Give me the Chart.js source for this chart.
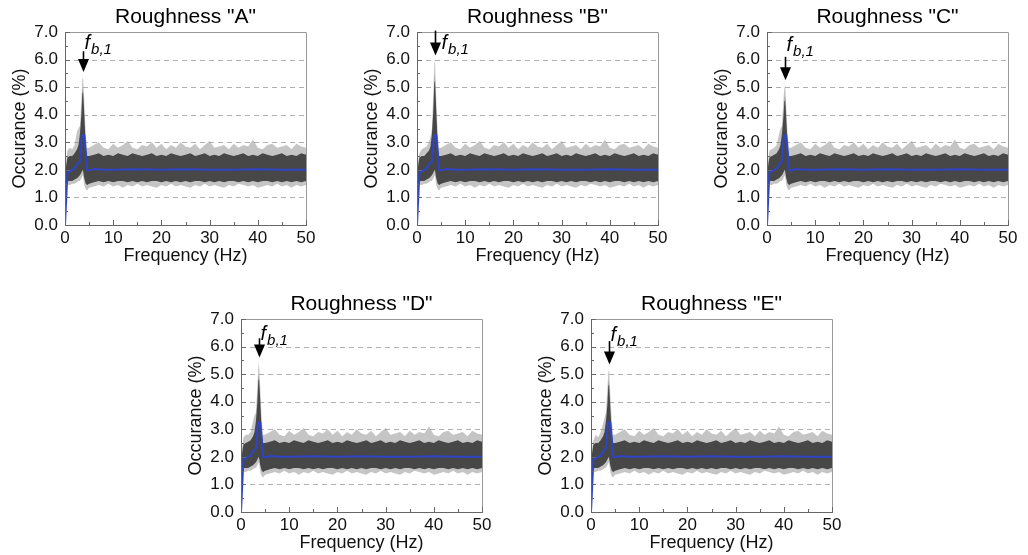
<!doctype html>
<html lang="en">
<head>
<meta charset="utf-8">
<script src="https://cdn.jsdelivr.net/npm/chart.js@4.4.1/dist/chart.umd.min.js"></script>
<style>
  body { margin: 0; background: #fff; width: 1028px; height: 555px; overflow: hidden; position: relative; }
  .panel { position: absolute; width: 321px; height: 270px; }
</style>
</head>
<body>
<div class="panel" style="left:5px;top:0px"><canvas id="chartA" width="321" height="270"></canvas></div>
<div class="panel" style="left:357px;top:0px"><canvas id="chartB" width="321" height="270"></canvas></div>
<div class="panel" style="left:707px;top:0px"><canvas id="chartC" width="321" height="270"></canvas></div>
<div class="panel" style="left:181px;top:287px"><canvas id="chartD" width="321" height="270"></canvas></div>
<div class="panel" style="left:531px;top:287px"><canvas id="chartE" width="321" height="270"></canvas></div>
<script>
// panel titles
const panelIds = ['chartA', 'chartB', 'chartC', 'chartD', 'chartE'];
const panelTitles = ['Roughness "A"', 'Roughness "B"', 'Roughness "C"', 'Roughness "D"', 'Roughness "E"'];

// frequency grid of the scatter band (Hz)
const lowBandFreq = [0.2, 0.5, 1, 1.5, 2, 2.5, 2.8, 3.1, 3.4, 3.6, 3.7, 3.8, 4.0, 4.3, 4.6];
const flatBandFreq = [5, 6, 7, 8, 9, 10, 11, 12, 13, 14, 15, 16, 17, 18, 19, 20, 21, 22, 23, 24,
  25, 26, 27, 28, 29, 30, 31, 32, 33, 34, 35, 36, 37, 38, 39, 40, 41, 42, 43, 44, 45, 46, 47, 48, 49, 50];

// upper edge of scattered points (light outliers), 0.2-4.6 Hz, per roughness
const outerTopLowA = [2.3, 2.7, 2.8, 2.75, 2.9, 3.4, 3.5, 3.6, 4.6, 5.3, 5.5, 5.2, 4.5, 3.3, 2.8];
const outerTopLowB = [2.3, 2.6, 2.75, 2.8, 2.85, 3.0, 3.2, 3.5, 4.9, 5.9, 6.15, 5.6, 4.6, 3.3, 2.8];
const outerTopLowC = [2.3, 2.7, 2.75, 2.8, 2.9, 3.3, 3.5, 3.6, 4.5, 5.0, 5.25, 5.0, 4.3, 3.2, 2.8];
const outerTopLowD = [2.3, 2.7, 2.8, 2.8, 2.9, 3.3, 3.5, 3.6, 4.6, 5.3, 5.55, 5.2, 4.5, 3.3, 2.8];
const outerTopLowE = [2.3, 2.6, 2.8, 2.7, 2.9, 3.2, 3.4, 3.6, 4.5, 5.1, 5.35, 5.0, 4.3, 3.3, 2.8];

// upper edge of dense points, 0.2-4.6 Hz, per roughness
const coreTopLowA = [2.1, 2.45, 2.5, 2.5, 2.6, 2.75, 2.9, 3.3, 4.0, 4.8, 5.0, 4.7, 4.0, 2.9, 2.5];
const coreTopLowB = [2.1, 2.45, 2.5, 2.5, 2.6, 2.7, 2.85, 3.3, 4.2, 5.2, 5.5, 5.0, 4.1, 2.9, 2.5];
const coreTopLowC = [2.1, 2.45, 2.5, 2.55, 2.6, 2.75, 2.9, 3.3, 3.9, 4.5, 4.7, 4.5, 3.8, 2.8, 2.5];
const coreTopLowD = [2.1, 2.45, 2.5, 2.55, 2.6, 2.75, 2.9, 3.3, 4.0, 4.8, 5.0, 4.7, 4.0, 2.9, 2.5];
const coreTopLowE = [2.1, 2.45, 2.5, 2.5, 2.6, 2.75, 2.9, 3.3, 3.9, 4.6, 4.8, 4.5, 3.8, 2.9, 2.5];

// lower edges, 0.2-4.6 Hz (alike in all panels)
const coreBottomLow = [1.5, 1.6, 1.6, 1.6, 1.65, 1.7, 1.75, 1.8, 1.9, 2.0, 2.0, 1.9, 1.7, 1.5, 1.45];
const outerBottomLow = [1.4, 1.45, 1.45, 1.5, 1.5, 1.55, 1.6, 1.6, 1.7, 1.8, 1.8, 1.7, 1.45, 1.3, 1.25];

// band edges above 5 Hz (alike in all panels)
const flatOuterTop = [2.8, 2.9, 3.0, 2.8, 2.75, 2.95, 2.8, 2.9, 3.05, 2.8,
  2.75, 2.9, 2.85, 3.0, 2.8, 2.95, 2.75, 2.9, 2.8, 3.0,
  2.85, 2.8, 2.95, 2.75, 2.9, 3.05, 2.8, 2.85, 2.9, 2.75,
  2.95, 2.8, 2.9, 2.85, 3.1, 2.8, 2.75, 2.9, 2.95, 2.8,
  2.85, 2.9, 2.75, 2.95, 2.85, 2.8];
const flatCoreTop = [2.5, 2.55, 2.6, 2.5, 2.55, 2.5, 2.6, 2.55, 2.5, 2.6,
  2.55, 2.5, 2.55, 2.6, 2.5, 2.55, 2.5, 2.6, 2.55, 2.5,
  2.55, 2.6, 2.5, 2.55, 2.6, 2.5, 2.55, 2.5, 2.6, 2.55,
  2.5, 2.55, 2.6, 2.5, 2.55, 2.5, 2.6, 2.55, 2.5, 2.55,
  2.6, 2.5, 2.55, 2.5, 2.6, 2.55];
const flatCoreBottom = [1.5, 1.55, 1.6, 1.55, 1.6, 1.55, 1.6, 1.6, 1.55, 1.6,
  1.55, 1.6, 1.55, 1.6, 1.6, 1.55, 1.6, 1.55, 1.6, 1.55,
  1.6, 1.55, 1.6, 1.6, 1.55, 1.6, 1.55, 1.6, 1.55, 1.6,
  1.6, 1.55, 1.6, 1.55, 1.6, 1.55, 1.6, 1.6, 1.55, 1.6,
  1.55, 1.6, 1.55, 1.6, 1.55, 1.6];
const flatOuterBottom = [1.35, 1.4, 1.45, 1.4, 1.5, 1.4, 1.45, 1.35, 1.45, 1.4,
  1.5, 1.4, 1.45, 1.4, 1.35, 1.45, 1.4, 1.5, 1.4, 1.45,
  1.4, 1.35, 1.45, 1.4, 1.5, 1.4, 1.45, 1.4, 1.35, 1.45,
  1.4, 1.5, 1.45, 1.4, 1.45, 1.35, 1.4, 1.45, 1.4, 1.5,
  1.4, 1.45, 1.35, 1.45, 1.4, 1.45];

// mean occurrence (blue line)
const meanFreq = [0, 0.5, 1, 1.5, 2, 2.5, 3.1, 3.5, 4.0, 4.6, 5, 6, 8, 10, 15, 20, 25, 30, 35, 40, 45, 50];
const meanOcc = [0, 1.9, 1.95, 2.0, 2.05, 2.2, 2.3, 3.25, 3.25, 2.0, 1.98, 2.03, 2.0, 2.0, 2.02, 2.0, 2.02, 2.0, 2.0, 2.02, 2.0, 2.0];

// f_b,1 arrow: frequency, start and tip (%)
const arrowFreq = [3.7, 3.7, 3.7, 3.7, 3.7];
const arrowFrom = [6.3, 7.05, 6.1, 6.3, 6.2];
const arrowTo = [5.55, 6.15, 5.25, 5.6, 5.35];
const labelOcc = [6.4, 6.4, 6.3, 6.25, 6.2];
const labelDx = [1, 6, 1, 1, 1];

const outerTops = [outerTopLowA, outerTopLowB, outerTopLowC, outerTopLowD, outerTopLowE];
const coreTops = [coreTopLowA, coreTopLowB, coreTopLowC, coreTopLowD, coreTopLowE];

const xTicks = [0, 10, 20, 30, 40, 50];
const yTicks = [0, 1, 2, 3, 4, 5, 6, 7];

const FONT = '"Liberation Sans", Arial, sans-serif';
const bandFreq = lowBandFreq.concat(flatBandFreq);
const pts = (xs, ys) => xs.map((x, i) => ({x: x, y: ys[i]}));

const decor = {
  id: 'decor',
  beforeDatasetsDraw(chart) {
    const {ctx, chartArea: a, scales: {y}} = chart;
    ctx.save();
    ctx.strokeStyle = '#b0b0b0';
    ctx.lineWidth = 1;
    ctx.setLineDash([5, 4]);
    for (let v = 1; v <= 6; v++) {
      const py = Math.round(y.getPixelForValue(v)) + 0.5;
      ctx.beginPath(); ctx.moveTo(a.left, py); ctx.lineTo(a.right, py); ctx.stroke();
    }
    ctx.restore();
  },
  afterDraw(chart, args, o) {
    const {ctx, chartArea: a, scales: {x, y}} = chart;
    ctx.save();
    // frame
    ctx.lineWidth = 1;
    ctx.strokeStyle = '#9a9a9a';
    ctx.beginPath();
    ctx.moveTo(a.left, a.top + 0.5); ctx.lineTo(a.right + 0.5, a.top + 0.5); ctx.lineTo(a.right + 0.5, a.bottom);
    ctx.stroke();
    ctx.strokeStyle = '#666';
    ctx.beginPath();
    ctx.moveTo(a.left + 0.5, a.top); ctx.lineTo(a.left + 0.5, a.bottom + 0.5); ctx.lineTo(a.right + 1, a.bottom + 0.5);
    ctx.stroke();
    // inward ticks
    ctx.beginPath();
    for (let v = 0; v <= 50; v += 5) {
      const px = Math.round(x.getPixelForValue(v)) + 0.5;
      const len = v % 10 === 0 ? 5 : 3;
      ctx.moveTo(px, a.bottom); ctx.lineTo(px, a.bottom - len);
    }
    for (let v = 0; v <= 7; v += 0.5) {
      const py = Math.round(y.getPixelForValue(v)) + 0.5;
      const len = v % 1 === 0 ? 5 : 3;
      ctx.moveTo(a.left, py); ctx.lineTo(a.left + len, py);
    }
    ctx.stroke();
    // title
    ctx.fillStyle = '#000';
    ctx.font = '21px ' + FONT;
    ctx.textAlign = 'center';
    ctx.textBaseline = 'middle';
    ctx.fillText(o.title, (a.left + a.right) / 2, a.top - 15);
    // arrow
    const ax = Math.round(x.getPixelForValue(o.arrowX)) + 0.5;
    const y0 = y.getPixelForValue(o.from), y1 = y.getPixelForValue(o.to);
    ctx.strokeStyle = '#000';
    ctx.lineWidth = 1.6;
    ctx.beginPath(); ctx.moveTo(ax, y0); ctx.lineTo(ax, y1 - 10); ctx.stroke();
    ctx.fillStyle = '#000';
    ctx.beginPath(); ctx.moveTo(ax - 5.5, y1 - 13); ctx.lineTo(ax + 5.5, y1 - 13); ctx.lineTo(ax, y1); ctx.closePath(); ctx.fill();
    // f_b,1 label
    const lx = ax + o.dx, ly = y.getPixelForValue(o.labelY);
    ctx.textAlign = 'left';
    ctx.textBaseline = 'alphabetic';
    ctx.font = 'italic 20px ' + FONT;
    ctx.fillText('f', lx, ly);
    const fw = ctx.measureText('f').width;
    ctx.font = 'italic 15px ' + FONT;
    ctx.fillText('b,1', lx + fw + 1, ly + 5);
    ctx.restore();
  }
};

panelIds.forEach((id, k) => {
  new Chart(document.getElementById(id), {
    type: 'line',
    plugins: [decor],
    data: {
      datasets: [
        { data: pts(bandFreq, outerTops[k].concat(flatOuterTop)), fill: '+1', backgroundColor: 'rgba(150,150,150,0.55)', borderWidth: 0, pointRadius: 0, order: 2 },
        { data: pts(bandFreq, outerBottomLow.concat(flatOuterBottom)), fill: false, borderWidth: 0, pointRadius: 0, order: 2 },
        { data: pts(bandFreq, coreTops[k].concat(flatCoreTop)), fill: '+1', backgroundColor: '#474747', borderWidth: 0, pointRadius: 0, order: 1 },
        { data: pts(bandFreq, coreBottomLow.concat(flatCoreBottom)), fill: false, borderWidth: 0, pointRadius: 0, order: 1 },
        { data: pts(meanFreq, meanOcc), fill: false, borderColor: '#2f44c4', borderWidth: 2, pointRadius: 0, order: 0 }
      ]
    },
    options: {
      responsive: false,
      animation: false,
      events: [],
      layout: { padding: { top: 32, right: 20, left: 0, bottom: 0 } },
      plugins: {
        legend: { display: false },
        tooltip: { enabled: false },
        decor: { title: panelTitles[k], arrowX: arrowFreq[k], from: arrowFrom[k], to: arrowTo[k], labelY: labelOcc[k], dx: labelDx[k] }
      },
      scales: {
        x: {
          type: 'linear', min: 0, max: 50,
          afterBuildTicks: (s) => { s.ticks = xTicks.map(v => ({value: v})); },
          afterFit: (s) => { s.height = 45; },
          grid: { display: false, drawTicks: false },
          border: { display: false },
          ticks: { padding: 3, color: '#111', font: { family: FONT, size: 17 }, maxRotation: 0 },
          title: { display: true, text: 'Frequency (Hz)', color: '#111', font: { family: FONT, size: 18 }, padding: { top: 0, bottom: 3 } }
        },
        y: {
          min: 0, max: 7,
          afterBuildTicks: (s) => { s.ticks = yTicks.map(v => ({value: v})); },
          afterFit: (s) => { s.width = 60; },
          grid: { display: false, drawTicks: false },
          border: { display: false },
          ticks: { padding: 7, color: '#111', font: { family: FONT, size: 17 }, callback: (v) => Number(v).toFixed(1) },
          title: { display: true, text: 'Occurance (%)', color: '#111', font: { family: FONT, size: 18 }, padding: { top: 4, bottom: 0 } }
        }
      }
    }
  });
});
</script>
</body>
</html>
